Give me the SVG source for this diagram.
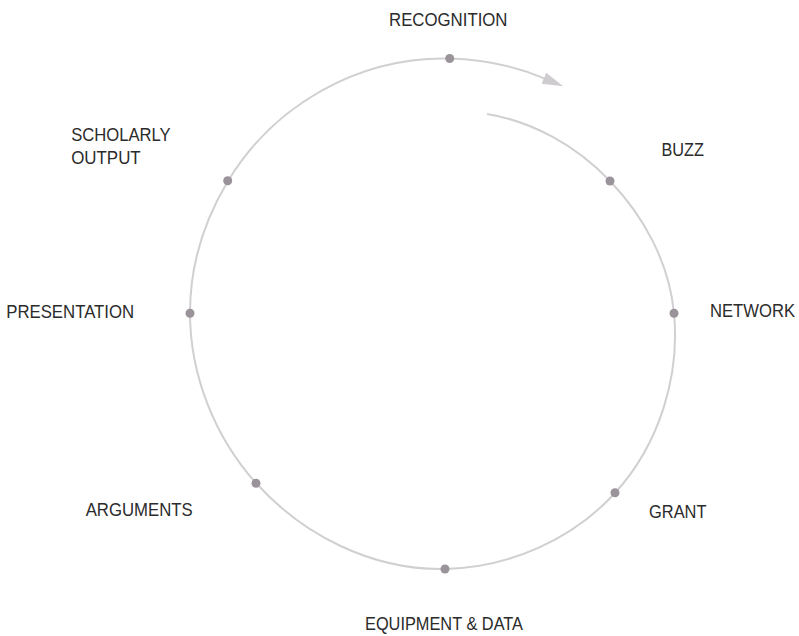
<svg xmlns="http://www.w3.org/2000/svg" width="799" height="636" viewBox="0 0 799 636">
  <style>
    .lbl { font-family: "Liberation Sans", Arial, sans-serif; font-size: 17.5px; fill: #2b2b2b; }
    .dot { fill: #9a949a; }
    .ring { fill: none; stroke: #d2cfd2; stroke-width: 2; }
  </style>
  <defs>
    <marker id="arrow" markerUnits="userSpaceOnUse" markerWidth="22" markerHeight="14" viewBox="0 0 22 14" refX="1" refY="7" orient="auto">
      <path d="M0,1 L21,7 L0,13 z" fill="#cfcccf"/>
    </marker>
  </defs>
  <rect width="799" height="636" fill="#ffffff"/>
  <g id="connectors">
    <path class="ring" marker-end="url(#arrow)" d="M487,114 C532.3,121.4 576,145.4 610,181 C643.1,215.7 668.9,261.2 674,313 C680.1,375.5 659.6,444.2 615,493 C572.1,540 508.4,567.7 445,569 C372,570.5 302.6,534.9 256,483 C214.5,436.7 190,374.7 190,313 C190,266.4 203.8,221.2 228,181 C273.3,105.9 357.5,56.45 449.7,58.5 C481.9,59.2 514.5,65.9 544.8,78.6"/>
  </g>
  <g id="recognition">
    <circle class="dot" cx="449.7" cy="58.5" r="4.5"/>
    <text class="lbl" x="389" y="25.5" textLength="118.5" lengthAdjust="spacingAndGlyphs">RECOGNITION</text>
  </g>
  <g id="buzz">
    <circle class="dot" cx="610" cy="181" r="4.5"/>
    <text class="lbl" x="661.5" y="155.7" textLength="42.5" lengthAdjust="spacingAndGlyphs">BUZZ</text>
  </g>
  <g id="network">
    <circle class="dot" cx="674" cy="313.3" r="4.5"/>
    <text class="lbl" x="710" y="316.5" textLength="85" lengthAdjust="spacingAndGlyphs">NETWORK</text>
  </g>
  <g id="grant">
    <circle class="dot" cx="615" cy="492.7" r="4.5"/>
    <text class="lbl" x="649" y="518" textLength="57.5" lengthAdjust="spacingAndGlyphs">GRANT</text>
  </g>
  <g id="equipment-data">
    <circle class="dot" cx="445" cy="569" r="4.5"/>
    <text class="lbl" x="365" y="630" textLength="158" lengthAdjust="spacingAndGlyphs">EQUIPMENT &amp; DATA</text>
  </g>
  <g id="arguments">
    <circle class="dot" cx="256" cy="483.3" r="4.5"/>
    <text class="lbl" x="85.7" y="516" textLength="107" lengthAdjust="spacingAndGlyphs">ARGUMENTS</text>
  </g>
  <g id="presentation">
    <circle class="dot" cx="190" cy="313.3" r="4.5"/>
    <text class="lbl" x="6.2" y="317.5" textLength="128" lengthAdjust="spacingAndGlyphs">PRESENTATION</text>
  </g>
  <g id="scholarly-output">
    <circle class="dot" cx="227.7" cy="180.7" r="4.5"/>
    <text class="lbl" x="71.2" y="140.5" textLength="99.5" lengthAdjust="spacingAndGlyphs">SCHOLARLY</text>
    <text class="lbl" x="71.2" y="164" textLength="69.5" lengthAdjust="spacingAndGlyphs">OUTPUT</text>
  </g>
</svg>
